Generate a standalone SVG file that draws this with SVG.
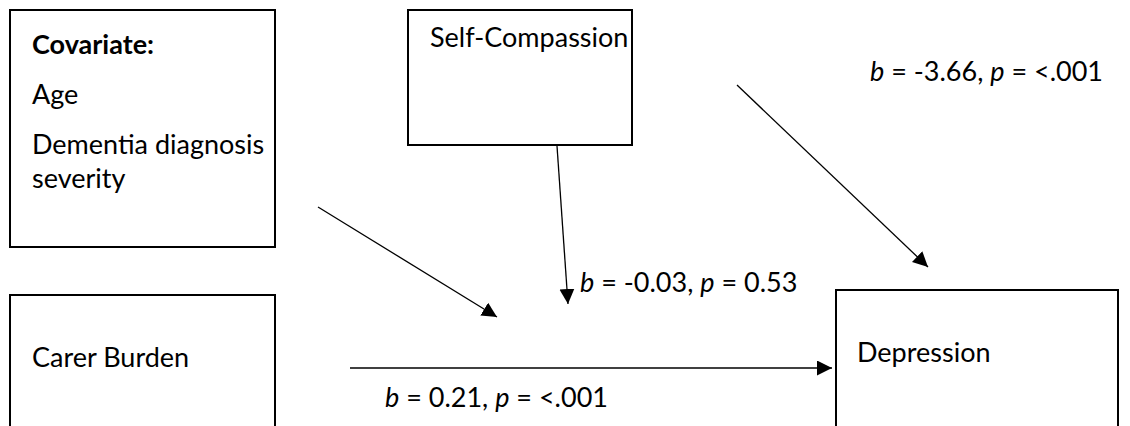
<svg xmlns="http://www.w3.org/2000/svg" width="1130" height="426" viewBox="0 0 1130 426">
<style>
.box{fill:#fff;stroke:#000;stroke-width:2}
.t{font-family:Lato,"Open Sans","Liberation Sans",sans-serif;font-size:27px;fill:#000}
.b{font-weight:bold}
.i{font-style:italic}
.c{stroke:#000;stroke-width:1.3;fill:none;marker-end:url(#ah)}
</style>
<defs>
<marker id="ah" markerUnits="userSpaceOnUse" markerWidth="16" markerHeight="16" refX="15" refY="7.5" orient="auto" viewBox="0 0 16 16">
<path d="M0,0 L15,7.5 L0,15 z" fill="#000"/>
</marker>
</defs>
<rect width="1130" height="426" fill="#fff"/>
<g id="covariate">
<rect class="box" x="10" y="10" width="265" height="237"/>
<text class="t b" x="32" y="54">Covariate:</text>
<text class="t" x="32" y="104">Age</text>
<text class="t" x="32" y="154">Dementia diagnosis</text>
<text class="t" x="32" y="188">severity</text>
</g>
<g id="self-compassion">
<rect class="box" x="408" y="10" width="224" height="135"/>
<text class="t" x="430" y="47">Self-Compassion</text>
</g>
<g id="carer-burden">
<rect class="box" x="10" y="295" width="265" height="145"/>
<text class="t" x="32" y="367">Carer Burden</text>
</g>
<g id="depression">
<rect class="box" x="836" y="290" width="282" height="150"/>
<text class="t" x="857" y="362">Depression</text>
</g>
<g id="connectors">
<line class="c" x1="318" y1="207" x2="497" y2="317"/>
<line class="c" x1="557" y1="146" x2="568" y2="304"/>
<line class="c" x1="350" y1="368" x2="832" y2="368"/>
<line class="c" x1="737" y1="85" x2="928" y2="267"/>
</g>
<g id="labels">
<text class="t" x="870" y="81"><tspan class="i">b</tspan> = -3.66, <tspan class="i">p</tspan> = &lt;.001</text>
<text class="t" x="580" y="292"><tspan class="i">b</tspan> = -0.03, <tspan class="i">p</tspan> = 0.53</text>
<text class="t" x="385" y="407"><tspan class="i">b</tspan> = 0.21, <tspan class="i">p</tspan> = &lt;.001</text>
</g>
</svg>
